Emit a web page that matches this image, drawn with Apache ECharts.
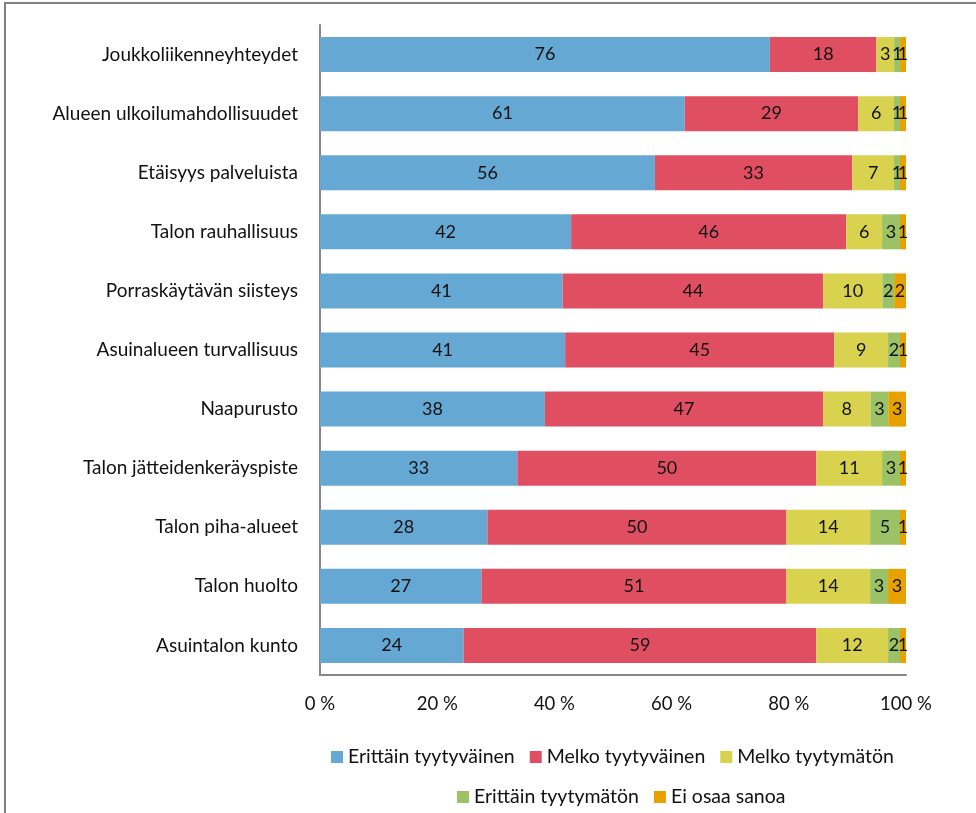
<!DOCTYPE html>
<html>
<head>
<meta charset="utf-8">
<script src="https://cdn.jsdelivr.net/npm/echarts@6/dist/echarts.min.js"></script>
<style>
  html, body { margin: 0; padding: 0; background: #fff; }
  #chart { width: 976px; height: 813px; }
</style>
</head>
<body>
<div id="chart"></div>
<script>
  // kategoriat ylhäältä alas
  var categories = [
    'Joukkoliikenneyhteydet',
    'Alueen ulkoilumahdollisuudet',
    'Etäisyys palveluista',
    'Talon rauhallisuus',
    'Porraskäytävän siisteys',
    'Asuinalueen turvallisuus',
    'Naapurusto',
    'Talon jätteidenkeräyspiste',
    'Talon piha-alueet',
    'Talon huolto',
    'Asuintalon kunto'
  ]
  var seriesNames = ['Erittäin tyytyväinen', 'Melko tyytyväinen', 'Melko tyytymätön', 'Erittäin tyytymätön', 'Ei osaa sanoa']
  var erittainTyytyvainen = [76, 61, 56, 42, 41, 41, 38, 33, 28, 27, 24]
  var melkoTyytyvainen = [18, 29, 33, 46, 44, 45, 47, 50, 50, 51, 59]
  var melkoTyytymaton = [3, 6, 7, 6, 10, 9, 8, 11, 14, 14, 12]
  var erittainTyytymaton = [1, 1, 1, 3, 2, 2, 3, 3, 5, 3, 2]
  var eiOsaaSanoa = [1, 1, 1, 1, 2, 1, 3, 1, 1, 3, 1]
  var xTicks = [0, 20, 40, 60, 80, 100]
  var colors = ['#65a8d3', '#e04e62', '#d8d24e', '#9bc365', '#e8a200']

  var allValues = [erittainTyytyvainen, melkoTyytyvainen, melkoTyytymaton, erittainTyytymaton, eiOsaaSanoa]
  var font = 'Lato'

  // 100 % pinottu: jokainen rivi skaalataan summaansa
  var rowSums = categories.map(function (c, i) {
    var s = 0
    allValues.forEach(function (arr) { s += arr[i] })
    return s
  })

  var series = allValues.map(function (arr, k) {
    return {
      name: seriesNames[k],
      type: 'bar',
      stack: 'total',
      barWidth: 35,
      itemStyle: { color: colors[k] },
      label: {
        show: true,
        position: 'inside',
        color: '#111',
        fontFamily: font,
        fontSize: 18,
        formatter: function (p) { return arr[p.dataIndex] }
      },
      data: arr.map(function (v, i) { return v / rowSums[i] * 100 })
    }
  })

  var legendText = { color: '#111', fontSize: 19.5, fontFamily: font }

  var myChart = echarts.init(document.getElementById('chart'))
  var option = {
    animation: false,
    textStyle: { fontFamily: font },
    graphic: [{
      type: 'rect',
      shape: { x: 5, y: 3, width: 1000, height: 900 },
      style: { fill: 'none', stroke: '#808080', lineWidth: 2 },
      silent: true
    }],
    grid: { left: 320, right: 70, top: 25, bottom: 138 },
    xAxis: {
      type: 'value',
      min: xTicks[0],
      max: xTicks[xTicks.length - 1],
      interval: 20,
      axisLine: { show: true, lineStyle: { color: '#868686', width: 2 } },
      axisTick: { show: false },
      splitLine: { show: false },
      axisLabel: { formatter: '{value} %', color: '#111', fontSize: 18.5, margin: 20, fontFamily: font }
    },
    yAxis: {
      type: 'category',
      inverse: true,
      data: categories,
      axisLine: { show: true, lineStyle: { color: '#868686', width: 2 } },
      axisTick: { show: false },
      axisLabel: { color: '#111', fontSize: 19, margin: 22, fontFamily: font }
    },
    legend: [{
      data: seriesNames.slice(0, 3),
      left: 326,
      top: 742,
      itemWidth: 12,
      itemHeight: 12,
      itemGap: 15,
      icon: 'rect',
      textStyle: legendText
    }, {
      data: seriesNames.slice(3),
      left: 452,
      top: 782,
      itemWidth: 12,
      itemHeight: 12,
      itemGap: 15,
      icon: 'rect',
      textStyle: legendText
    }],
    series: series
  }
  myChart.setOption(option)
</script>
</body>
</html>
